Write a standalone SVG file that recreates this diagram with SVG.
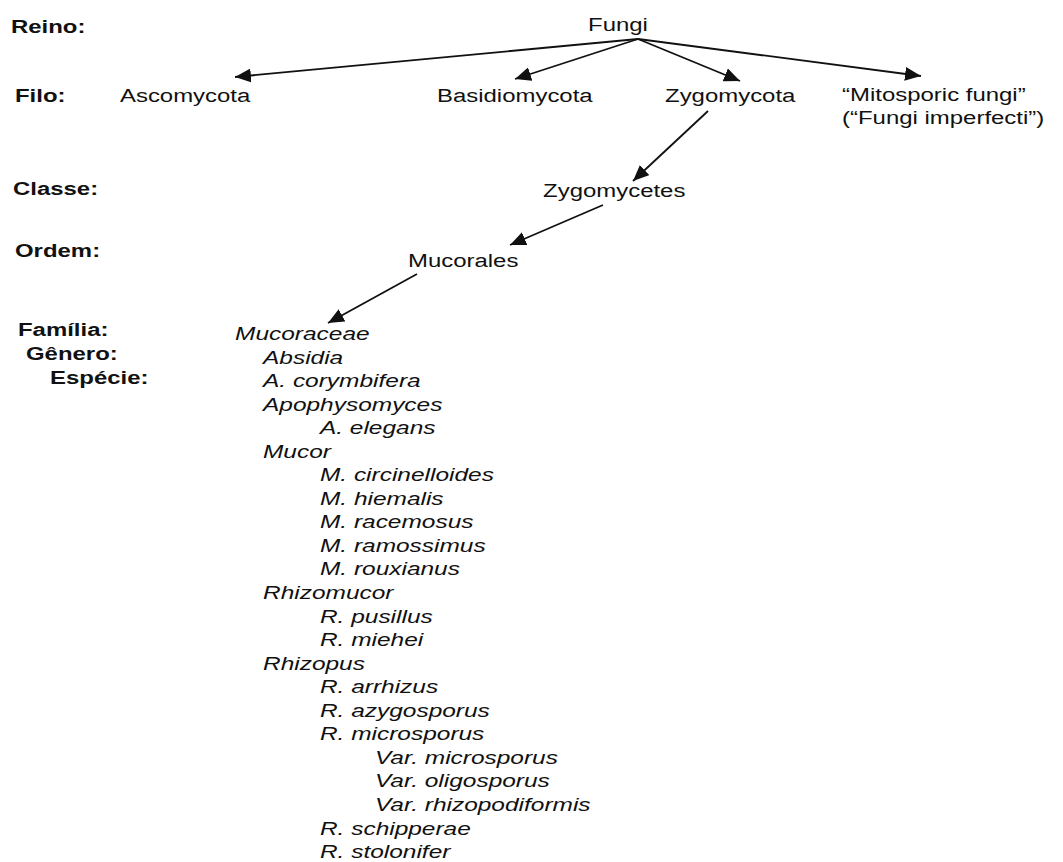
<svg xmlns="http://www.w3.org/2000/svg" width="1063" height="862" viewBox="0 0 1063 862">
<style>
.lbl{font-family:"Liberation Sans",Arial,sans-serif;font-weight:bold;font-size:19px;fill:#111}
.tx{font-family:"Liberation Sans",Arial,sans-serif;font-size:19px;fill:#111}
.it{font-family:"Liberation Sans",Arial,sans-serif;font-style:italic;font-size:19px;fill:#111}
.edge{stroke:#111;stroke-width:1.8;fill:none;marker-end:url(#ah)}
</style>
<defs>
<marker id="ah" markerUnits="userSpaceOnUse" markerWidth="17" markerHeight="14" refX="16" refY="7" orient="auto">
<path d="M0,0 L16,7 L0,14 z" fill="#111"/>
</marker>
</defs>
<rect width="1063" height="862" fill="#fff"/>
<g id="ranks" transform="scale(1.26 1)">
<text class="lbl" x="8.7" y="33">Reino:</text>
<text class="lbl" x="11.9" y="102">Filo:</text>
<text class="lbl" x="10.3" y="195">Classe:</text>
<text class="lbl" x="11.9" y="257">Ordem:</text>
<text class="lbl" x="14.3" y="336">Família:</text>
<text class="lbl" x="20.6" y="360">Gênero:</text>
<text class="lbl" x="39.7" y="384">Espécie:</text>
</g>
<g id="connectors">
<line class="edge" x1="638" y1="39" x2="235" y2="77"/>
<line class="edge" x1="638" y1="39" x2="515" y2="79"/>
<line class="edge" x1="638" y1="39" x2="740" y2="81"/>
<line class="edge" x1="638" y1="39" x2="921" y2="76"/>
<line class="edge" x1="708" y1="111" x2="633" y2="181"/>
<line class="edge" x1="603" y1="205" x2="510" y2="245"/>
<line class="edge" x1="417" y1="274" x2="328" y2="323"/>
</g>
<g id="fungi" transform="scale(1.26 1)"><text class="tx" x="466.7" y="31">Fungi</text></g>
<g id="ascomycota" transform="scale(1.26 1)"><text class="tx" x="95.2" y="102">Ascomycota</text></g>
<g id="basidiomycota" transform="scale(1.26 1)"><text class="tx" x="346.8" y="102">Basidiomycota</text></g>
<g id="zygomycota" transform="scale(1.26 1)"><text class="tx" x="527.8" y="102">Zygomycota</text></g>
<g id="mitosporic" transform="scale(1.26 1)"><text class="tx" x="668.3" y="101">“Mitosporic fungi”</text><text class="tx" x="668.3" y="124">(“Fungi imperfecti”)</text></g>
<g id="zygomycetes" transform="scale(1.26 1)"><text class="tx" x="431" y="197">Zygomycetes</text></g>
<g id="mucorales" transform="scale(1.26 1)"><text class="tx" x="323.8" y="267">Mucorales</text></g>
<g id="mucoraceae" transform="scale(1.288 1)"><text class="it" x="182.5" y="340">Mucoraceae</text></g>
<g id="absidia" transform="scale(1.288 1)">
<text class="it" x="204.2" y="363.6">Absidia</text>
<text class="it" x="204.2" y="387.1">A. corymbifera</text>
</g>
<g id="apophysomyces" transform="scale(1.288 1)">
<text class="it" x="204.2" y="410.7">Apophysomyces</text>
<text class="it" x="248.4" y="434.2">A. elegans</text>
</g>
<g id="mucor" transform="scale(1.288 1)">
<text class="it" x="204.2" y="457.8">Mucor</text>
<text class="it" x="248.4" y="481.3">M. circinelloides</text>
<text class="it" x="248.4" y="504.9">M. hiemalis</text>
<text class="it" x="248.4" y="528.4">M. racemosus</text>
<text class="it" x="248.4" y="552">M. ramossimus</text>
<text class="it" x="248.4" y="575.5">M. rouxianus</text>
</g>
<g id="rhizomucor" transform="scale(1.288 1)">
<text class="it" x="204.2" y="599.1">Rhizomucor</text>
<text class="it" x="248.4" y="622.6">R. pusillus</text>
<text class="it" x="248.4" y="646.2">R. miehei</text>
</g>
<g id="rhizopus" transform="scale(1.288 1)">
<text class="it" x="204.2" y="669.7">Rhizopus</text>
<text class="it" x="248.4" y="693.3">R. arrhizus</text>
<text class="it" x="248.4" y="716.8">R. azygosporus</text>
<text class="it" x="248.4" y="740.4">R. microsporus</text>
<text class="it" x="291.1" y="763.9">Var. microsporus</text>
<text class="it" x="291.1" y="787.5">Var. oligosporus</text>
<text class="it" x="291.1" y="811">Var. rhizopodiformis</text>
<text class="it" x="248.4" y="834.6">R. schipperae</text>
<text class="it" x="248.4" y="858.1">R. stolonifer</text>
</g>
</svg>
